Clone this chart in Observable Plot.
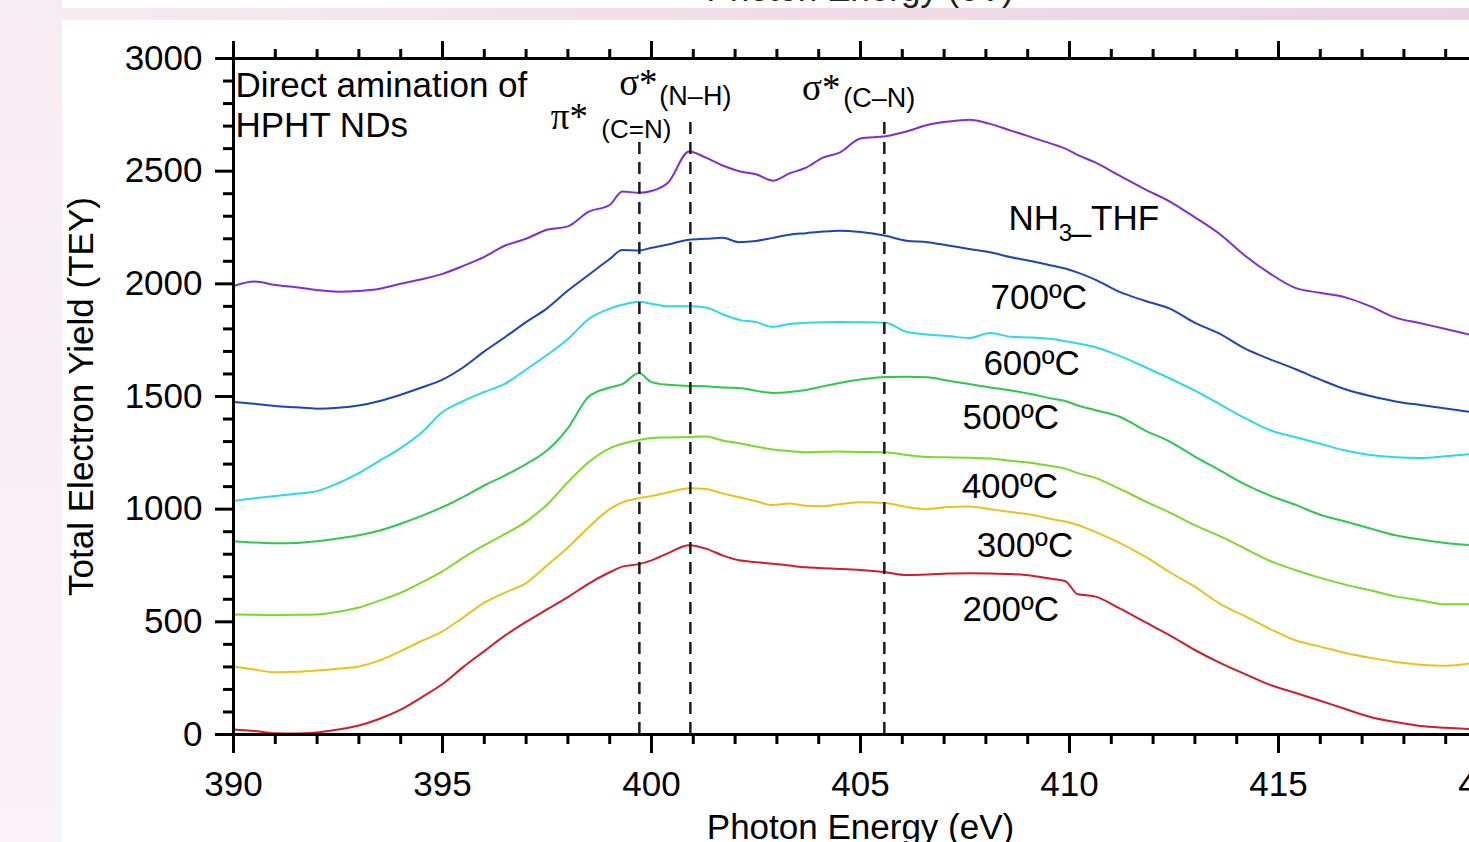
<!DOCTYPE html>
<html><head><meta charset="utf-8">
<script src="https://cdn.jsdelivr.net/npm/d3@7"></script>
<script src="https://cdn.jsdelivr.net/npm/@observablehq/plot@0.6"></script>
<style>
html,body{margin:0;padding:0;background:#fff;}
body{width:1469px;height:842px;overflow:hidden;position:relative;font-family:"Liberation Sans",Arial,sans-serif;}
#leftband{position:absolute;left:0;top:0;width:62px;height:842px;background:linear-gradient(180deg,#f7ecf2,#faf3f7);}
#topband{position:absolute;left:0;top:8px;width:1469px;height:12px;background:linear-gradient(90deg,#f6edf2,#f0dce8 55%,#ecd3e2);}
#toptext{position:absolute;left:0;width:1720px;top:-29px;text-align:center;font-size:35px;line-height:35px;color:#222;white-space:nowrap;}
#chart{position:absolute;left:0;top:0;}
</style></head>
<body>
<div id="leftband"></div>
<div id="toptext">Photon Energy (eV)</div>
<div id="topband"></div>
<div id="chart"></div>
<script>
// Photon energy grid (eV)
const energy = [390, 390.5, 391, 391.5, 392, 392.5, 393, 393.5, 394, 394.5,
  395, 395.5, 396, 396.5, 397, 397.5, 398, 398.5, 399, 399.3,
  399.7, 400, 400.4, 400.9, 401.3, 401.7, 402.1, 402.5, 402.9, 403.3,
  403.7, 404.1, 404.5, 405, 405.6, 406.1, 406.6, 407.1, 407.6, 408.1,
  408.6, 409.1, 409.6, 409.9, 410.2, 410.6, 411.2, 411.8, 412.4, 413,
  413.6, 414.2, 414.8, 415.4, 416, 416.6, 417.2, 417.8, 418.4, 419,
  419.6];

const teyNH3THF = [1990, 2010, 1995, 1985, 1972, 1965, 1968, 1978, 2000, 2020,
  2044, 2080, 2120, 2170, 2200, 2240, 2255, 2320, 2350, 2410,
  2404, 2412, 2450, 2587, 2560, 2525, 2500, 2486, 2458, 2490,
  2516, 2560, 2582, 2645, 2655, 2676, 2705, 2720, 2728, 2710,
  2680, 2650, 2620, 2600, 2571, 2540, 2480, 2420, 2365, 2295,
  2220, 2125, 2045, 1982, 1960, 1940, 1900, 1850, 1825, 1800,
  1773];
const tey700 = [1476, 1468, 1458, 1452, 1446, 1450, 1460, 1480, 1508, 1540,
  1575, 1630, 1700, 1764, 1830, 1891, 1970, 2040, 2110, 2150,
  2148, 2160, 2175, 2196, 2200, 2204, 2185, 2190, 2204, 2218,
  2225, 2232, 2236, 2230, 2213, 2191, 2185, 2170, 2155, 2140,
  2118, 2100, 2080, 2068, 2050, 2020, 1964, 1925, 1890, 1827,
  1778, 1712, 1665, 1622, 1575, 1532, 1502, 1478, 1462, 1447,
  1431];
const tey600 = [1036, 1048, 1058, 1068, 1080, 1115, 1160, 1215, 1271, 1340,
  1431, 1480, 1520, 1557, 1620, 1684, 1755, 1844, 1890, 1907,
  1920, 1912, 1900, 1900, 1895, 1865, 1840, 1830, 1809, 1822,
  1827, 1830, 1831, 1830, 1827, 1787, 1775, 1768, 1760, 1782,
  1765, 1762, 1755, 1745, 1735, 1720, 1680, 1631, 1580, 1526,
  1465, 1404, 1350, 1320, 1290, 1260, 1240, 1230, 1227, 1235,
  1244];
const tey500 = [858, 852, 849, 850, 858, 870, 884, 905, 935, 970,
  1009, 1055, 1105, 1150, 1200, 1260, 1360, 1500, 1540, 1555,
  1604, 1564, 1552, 1547, 1545, 1540, 1538, 1525, 1516, 1520,
  1529, 1545, 1560, 1575, 1587, 1588, 1585, 1570, 1555, 1540,
  1527, 1510, 1490, 1480, 1460, 1440, 1410, 1350, 1300, 1233,
  1172, 1110, 1060, 1020, 975, 945, 914, 884, 865, 850,
  840];
const tey400 = [533, 531, 530, 531, 533, 545, 564, 595, 629, 675,
  724, 785, 840, 890, 945, 1020, 1120, 1209, 1270, 1290,
  1307, 1316, 1318, 1320, 1322, 1305, 1293, 1278, 1265, 1258,
  1253, 1255, 1256, 1254, 1253, 1240, 1231, 1230, 1228, 1225,
  1215, 1205, 1190, 1180, 1160, 1140, 1090, 1036, 985, 929,
  880, 825, 770, 730, 695, 665, 640, 613, 595, 578,
  578];
const tey300 = [302, 288, 276, 278, 284, 292, 302, 329, 370, 415,
  458, 520, 585, 630, 672, 750, 830, 920, 1000, 1030,
  1049, 1058, 1075, 1093, 1090, 1070, 1053, 1035, 1018, 1025,
  1015, 1013, 1022, 1031, 1027, 1010, 1000, 1010, 1012, 1000,
  987, 975, 955, 945, 930, 900, 850, 790, 720, 655,
  580, 525, 468, 418, 390, 362, 340, 322, 310, 305,
  316];
const tey200 = [22, 15, 5, 4, 9, 22, 40, 70, 110, 165,
  224, 300, 370, 440, 500, 555, 610, 670, 720, 745,
  756, 773, 805, 840, 825, 795, 773, 765, 758, 750,
  742, 738, 735, 730, 720, 708, 710, 714, 716, 715,
  712, 705, 690, 680, 622, 613, 560, 500, 440, 375,
  318, 268, 220, 185, 150, 113, 78, 55, 38, 30,
  24];

const seriesNames = ["NH3_THF", "700ºC", "600ºC", "500ºC", "400ºC", "300ºC", "200ºC"];
const seriesValues = [teyNH3THF, tey700, tey600, tey500, tey400, tey300, tey200];
const seriesColors = ["#7f2fd0", "#1f45b5", "#2dd9e6", "#2ec84f", "#7ed82c", "#e8c21e", "#cc1f2b"];

// dashed reference lines (peak energies, eV)
const peakEnergies = [399.71, 400.93, 405.57];

const xMajor = [390, 395, 400, 405, 410, 415, 420];
const xMinor = d3.range(390, 421, 1).filter(v => v % 5 !== 0);
const yMajor = [0, 500, 1000, 1500, 2000, 2500, 3000];
const yMinor = d3.range(0, 3001, 100).filter(v => v % 500 !== 0);

const rows = seriesNames.flatMap((name, i) =>
  energy.map((e, j) => ({energy: e, tey: seriesValues[i][j], series: name})));

const dashTops = [2628, 2738, 2747];
const tempLabels = [
  {t: "700ºC", x: 408.11, y: 1940},
  {t: "600ºC", x: 407.94, y: 1647},
  {t: "500ºC", x: 407.44, y: 1407},
  {t: "400ºC", x: 407.42, y: 1101},
  {t: "300ºC", x: 407.78, y: 839},
  {t: "200ºC", x: 407.44, y: 555}
];

const FONT = "'Liberation Sans', Arial, sans-serif";
const SERIF = "'Liberation Serif', 'Times New Roman', serif";
const fmt = d => String(d);

const chart = Plot.plot({
  width: 1540,
  height: 860,
  marginLeft: 233,
  marginRight: 53,
  marginTop: 58,
  marginBottom: 126,
  x: {domain: [390, 420]},
  y: {domain: [0, 3000]},
  color: {domain: seriesNames, range: seriesColors},
  style: {background: "transparent", maxWidth: "none", fontFamily: FONT, overflow: "visible", color: "black"},
  marks: [
    Plot.line(rows, {x: "energy", y: "tey", z: "series", stroke: "series", strokeWidth: 2, curve: "monotone-x"}),
    Plot.ruleX(peakEnergies, {x: d => d, y1: 0, y2: (d, i) => dashTops[i], stroke: "#1a1a1a", strokeWidth: 2.5, strokeDasharray: "12,8"}),
    Plot.axisX(xMajor, {anchor: "bottom", tickSize: 19, tickPadding: 18, fontSize: 35, strokeWidth: 3, tickFormat: fmt,
      label: "Photon Energy (eV)", labelAnchor: "center", labelOffset: 104, labelArrow: "none"}),
    Plot.axisX(xMinor, {anchor: "bottom", tickSize: 10, strokeWidth: 3, fill: "none", label: null}),
    Plot.axisX(xMajor, {anchor: "top", tickSize: 18, strokeWidth: 3, fill: "none", label: null}),
    Plot.axisX(xMinor, {anchor: "top", tickSize: 10, strokeWidth: 3, fill: "none", label: null}),
    Plot.axisY(yMajor, {anchor: "left", tickSize: 18, tickPadding: 13, fontSize: 35, strokeWidth: 3, tickFormat: fmt,
      label: "Total Electron Yield (TEY)", labelAnchor: "center", labelOffset: 165, labelArrow: "none"}),
    Plot.axisY(yMinor, {anchor: "left", tickSize: 10, strokeWidth: 3, fill: "none", label: null}),
    Plot.frame({stroke: "black", strokeWidth: 3}),
    // sample annotation
    Plot.text(["Direct amination of\nHPHT NDs"], {frameAnchor: "top-left", dx: 2, dy: 10, lineAnchor: "top", textAnchor: "start", fontSize: 35, lineHeight: 1.14, fill: "black"}),
    // peak annotations
    Plot.text(["π*"], {x: peakEnergies[0], frameAnchor: "top", dx: -70, dy: 59, fontSize: 37, fontFamily: SERIF, lineAnchor: "middle", fill: "black"}),
    Plot.text(["(C=N)"], {x: peakEnergies[0], frameAnchor: "top", dx: -3, dy: 71, fontSize: 26, lineAnchor: "middle", fill: "black"}),
    Plot.text(["σ*"], {x: peakEnergies[1], frameAnchor: "top", dx: -52, dy: 25, fontSize: 37, fontFamily: SERIF, lineAnchor: "middle", fill: "black"}),
    Plot.text(["(N–H)"], {x: peakEnergies[1], frameAnchor: "top", dx: 5, dy: 38, fontSize: 27, lineAnchor: "middle", fill: "black"}),
    Plot.text(["σ*"], {x: peakEnergies[2], frameAnchor: "top", dx: -63, dy: 30, fontSize: 37, fontFamily: SERIF, lineAnchor: "middle", fill: "black"}),
    Plot.text(["(C–N)"], {x: peakEnergies[2], frameAnchor: "top", dx: -5, dy: 40, fontSize: 27, lineAnchor: "middle", fill: "black"}),
    // series labels
    Plot.text(["NH"], {x: 408.54, y: 2290, textAnchor: "start", lineAnchor: "middle", fontSize: 35, fill: "black"}),
    Plot.text(["3"], {x: 409.74, y: 2224, textAnchor: "start", lineAnchor: "middle", fontSize: 24, fill: "black"}),
    Plot.text(["_THF"], {x: 410.05, y: 2290, textAnchor: "start", lineAnchor: "middle", fontSize: 35, fill: "black"}),
    Plot.text(tempLabels, {x: "x", y: "y", text: "t", textAnchor: "start", lineAnchor: "middle", fontSize: 35, fill: "black"})
  ]
});
document.getElementById("chart").appendChild(chart);
</script>
</body></html>
